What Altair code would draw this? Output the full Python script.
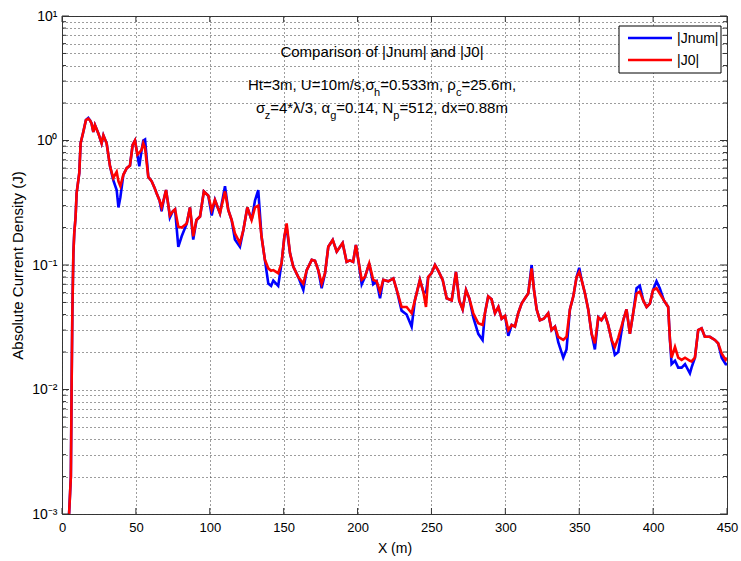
import altair as alt
import pandas as pd

# ---------------- data ----------------
x_m = [4.6, 5.5, 6.0, 6.5, 7.0, 7.7, 8.3, 9.2, 9.9, 11.7, 12.6, 14.4, 16.2, 17.8, 19.0, 20.0,
       21.2, 22.3, 24.6, 26.8, 28.0, 30.2, 32.5, 34.7, 37.0, 38.2, 39.5, 41.5, 43.8, 46.0,
       47.8, 49.4, 51.0, 52.3, 53.9, 55.0, 56.2, 58.4, 60.7, 62.5, 64.0, 66.0, 67.4, 69.0,
       70.4, 72.0, 73.0, 75.0, 76.5, 78.7, 81.0, 84.4, 86.6, 88.8, 91.0, 93.4, 96.0, 99.0,
       101.3, 103.5, 106.9, 110.3, 112.5, 114.8, 117.0, 120.4, 122.7, 125.4, 128.3, 130.6,
       132.8, 135.0, 137.3, 139.6, 141.5, 143.0, 146.3, 148.6, 150.5, 152.0, 154.3, 156.5,
       159.9, 163.3, 165.6, 169.0, 171.2, 173.4, 175.7, 178.0, 180.2, 183.2, 185.9, 189.9,
       192.6, 194.8, 197.0, 198.9, 200.5, 202.8, 205.0, 207.9, 210.6, 212.9, 215.2, 217.4,
       220.8, 224.2, 226.5, 229.8, 233.2, 236.6, 238.8, 242.2, 244.5, 246.3, 247.8, 250.1,
       252.4, 254.6, 257.6, 260.3, 263.7, 266.6, 268.8, 271.1, 273.4, 275.6, 278.3, 281.7,
       284.6, 286.2, 288.4, 290.7, 293.0, 295.3, 297.5, 299.8, 302.0, 304.3, 306.5, 308.7,
       311.0, 313.3, 315.5, 317.8, 319.4, 321.2, 323.4, 326.0, 329.0, 331.3, 333.6, 335.8,
       339.2, 341.4, 343.7, 346.0, 348.2, 350.0, 351.6, 353.9, 356.1, 358.4, 360.6, 362.9,
       365.0, 367.4, 369.6, 371.9, 374.1, 376.4, 379.8, 382.0, 384.3, 386.5, 388.8, 391.0,
       393.3, 395.6, 397.8, 400.0, 402.3, 404.5, 407.3, 410.2, 411.4, 412.5, 414.8, 417.0,
       419.3, 421.6, 424.9, 426.0, 428.3, 430.5, 432.8, 435.0, 438.4, 441.8, 444.0, 446.4,
       449.1, 450.0]

j0 = [0.0009, 0.0015, 0.002, 0.0105, 0.041, 0.125, 0.18, 0.244, 0.378, 0.55, 0.95, 1.17, 1.46,
      1.5, 1.45, 1.37, 1.17, 1.33, 1.14, 0.95, 1.1, 0.95, 0.62, 0.50, 0.56, 0.47, 0.43, 0.53,
      0.60, 0.63, 0.92, 1.0, 0.77, 0.80, 0.84, 0.95, 0.87, 0.51, 0.47, 0.42, 0.377, 0.33, 0.29,
      0.34, 0.40, 0.30, 0.25, 0.27, 0.28, 0.203, 0.20, 0.215, 0.29, 0.17, 0.23, 0.245, 0.39,
      0.36, 0.277, 0.333, 0.26, 0.39, 0.277, 0.23, 0.18, 0.15, 0.19, 0.29, 0.23, 0.29, 0.30,
      0.17, 0.11, 0.094, 0.09, 0.091, 0.086, 0.104, 0.17, 0.216, 0.124, 0.097, 0.08, 0.071,
      0.091, 0.11, 0.108, 0.091, 0.071, 0.086, 0.14, 0.159, 0.128, 0.15, 0.106, 0.109, 0.106,
      0.145, 0.11, 0.076, 0.08, 0.103, 0.076, 0.074, 0.061, 0.076, 0.074, 0.078, 0.063, 0.046,
      0.046, 0.041, 0.052, 0.076, 0.061, 0.046, 0.08, 0.086, 0.1, 0.09, 0.076, 0.054, 0.052,
      0.088, 0.052, 0.044, 0.063, 0.054, 0.041, 0.034, 0.033, 0.041, 0.056, 0.053, 0.041,
      0.046, 0.037, 0.039, 0.030, 0.033, 0.032, 0.041, 0.049, 0.054, 0.059, 0.094, 0.063,
      0.044, 0.036, 0.037, 0.041, 0.030, 0.032, 0.0265, 0.025, 0.0265, 0.044, 0.056, 0.080,
      0.088, 0.076, 0.059, 0.044, 0.028, 0.0235, 0.038, 0.036, 0.04, 0.033, 0.025, 0.022,
      0.026, 0.036, 0.044, 0.028, 0.041, 0.059, 0.061, 0.052, 0.046, 0.049, 0.063, 0.065,
      0.059, 0.052, 0.046, 0.025, 0.018, 0.022, 0.018, 0.0173, 0.018, 0.017, 0.0168, 0.018,
      0.030, 0.031, 0.0265, 0.0265, 0.025, 0.0235, 0.0195, 0.0173, 0.018]

jnum = [0.0009, 0.0015, 0.002, 0.0105, 0.041, 0.125, 0.18, 0.244, 0.378, 0.55, 0.95, 1.17, 1.46,
        1.52, 1.45, 1.37, 1.17, 1.33, 1.14, 0.95, 1.1, 0.95, 0.62, 0.48, 0.40, 0.29, 0.35, 0.53,
        0.60, 0.63, 0.92, 1.0, 0.77, 0.62, 0.84, 1.0, 1.02, 0.51, 0.47, 0.42, 0.377, 0.33, 0.27,
        0.34, 0.40, 0.30, 0.24, 0.27, 0.28, 0.14, 0.17, 0.215, 0.29, 0.16, 0.23, 0.245, 0.39,
        0.36, 0.25, 0.333, 0.26, 0.43, 0.277, 0.23, 0.16, 0.14, 0.19, 0.29, 0.23, 0.33, 0.40,
        0.17, 0.11, 0.071, 0.068, 0.075, 0.068, 0.104, 0.17, 0.20, 0.124, 0.097, 0.08, 0.063,
        0.091, 0.11, 0.108, 0.091, 0.065, 0.086, 0.14, 0.159, 0.128, 0.15, 0.106, 0.109, 0.106,
        0.145, 0.11, 0.07, 0.08, 0.103, 0.07, 0.074, 0.054, 0.076, 0.074, 0.078, 0.063, 0.043,
        0.04, 0.032, 0.052, 0.076, 0.061, 0.06, 0.08, 0.086, 0.1, 0.09, 0.076, 0.054, 0.052,
        0.088, 0.052, 0.044, 0.063, 0.054, 0.038, 0.028, 0.025, 0.041, 0.056, 0.053, 0.041,
        0.046, 0.037, 0.039, 0.027, 0.033, 0.032, 0.041, 0.049, 0.054, 0.059, 0.1, 0.063,
        0.044, 0.036, 0.037, 0.041, 0.030, 0.032, 0.024, 0.018, 0.021, 0.044, 0.056, 0.080,
        0.095, 0.076, 0.059, 0.044, 0.028, 0.021, 0.038, 0.036, 0.04, 0.033, 0.025, 0.019,
        0.02, 0.036, 0.044, 0.028, 0.041, 0.065, 0.068, 0.052, 0.046, 0.049, 0.063, 0.074,
        0.065, 0.052, 0.046, 0.025, 0.016, 0.017, 0.015, 0.015, 0.016, 0.0135, 0.015, 0.018,
        0.030, 0.031, 0.0265, 0.0265, 0.025, 0.0235, 0.018, 0.016, 0.016]

series_names = ["|Jnum|", "|J0|"]
series_colors = ["#0000ff", "#ff0000"]

x_ticks = [0, 50, 100, 150, 200, 250, 300, 350, 400, 450]
y_major = [0.001, 0.01, 0.1, 1, 10]
y_major_labels = ["10⁻³", "10⁻²", "10⁻¹", "10⁰", "10¹"]
y_minor = [0.002, 0.003, 0.004, 0.005, 0.006, 0.007, 0.008, 0.009,
           0.02, 0.03, 0.04, 0.05, 0.06, 0.07, 0.08, 0.09,
           0.2, 0.3, 0.4, 0.5, 0.6, 0.7, 0.8, 0.9,
           2, 3, 4, 5, 6, 7, 8, 9]

title_line = "Comparison of |Jnum| and |J0|"
# (text, is_subscript)
param_line1 = [("Ht=3m, U=10m/s,σ", False), ("h", True), ("=0.533m, ρ", False), ("c", True),
               ("=25.6m,", False)]
param_line2 = [("σ", False), ("z", True), ("=4*λ/3, α", False), ("g", True), ("=0.14, N", False),
               ("p", True), ("=512, dx=0.88m", False)]

# ---------------- layout ----------------
W, H = 665, 498
FONT = "Liberation Sans, Arial, sans-serif"
MAIN_FS = 15
SUB_FS = 11
GRID = "#3a3a3a"

CW = {' ': 278, ',': 278, '.': 278, '/': 278, '*': 389, '=': 584, '|': 260,
      'H': 722, 'U': 722, 'N': 722, 'C': 722, 'J': 500,
      'a': 556, 'c': 500, 'd': 556, 'f': 278, 'g': 556, 'h': 556, 'i': 222, 'm': 833,
      'n': 556, 'o': 556, 'p': 556, 'r': 333, 's': 500, 't': 278, 'u': 556, 'x': 500,
      'z': 500, 'σ': 571, 'ρ': 578, 'λ': 500, 'α': 578}


def text_width(s, fs):
    return sum(CW.get(ch, 556) for ch in s) / 1000.0 * fs


yscale = alt.Scale(type="log", domain=[0.001, 10], nice=False)
xscale = alt.Scale(domain=[0, 450], nice=False, zero=False)

label_expr = " : ".join(
    f"datum.value == {v} ? '{lab}'" for v, lab in zip(y_major, y_major_labels)) + " : ''"

xaxis = alt.Axis(values=x_ticks, title="X (m)", grid=True, ticks=False,
                 domain=False, labelPadding=7, labelFontSize=13,
                 labelFont=FONT, titleFont=FONT, titleFontSize=14,
                 titleFontWeight="normal", titleX=W / 2, titleY=34,
                 titleBaseline="middle", labelColor="black", titleColor="black",
                 gridDash=[1, 3], gridColor=GRID, gridWidth=1, gridOpacity=1,
                 labelFlush=False)
yaxis = alt.Axis(values=sorted(y_major + y_minor),
                 title="Absolute Current Density (J)", grid=True,
                 ticks=False, domain=False, labelExpr=label_expr,
                 labelPadding=5, labelFontSize=14, labelFont=FONT,
                 labelColor="black", titleColor="black",
                 titleFont=FONT, titleFontSize=15, titleFontWeight="normal",
                 titleX=-45, titleY=H / 2, titleBaseline="middle",
                 gridDash=[1, 3], gridColor=GRID, gridWidth=1, gridOpacity=1,
                 labelFlush=False, labelOverlap=False)

rows = []
for name, vals in zip(series_names, [jnum, j0]):
    for xv, yv in zip(x_m, vals):
        rows.append({"x": xv, "y": yv, "series": name})
df = pd.DataFrame(rows)
base = alt.Chart(df)

lines = []
for name, col in zip(series_names, series_colors):
    lines.append(
        base.transform_filter(alt.datum.series == name)
        .mark_line(clip=True, strokeWidth=2.6, color=col)
        .encode(
            x=alt.X("x:Q", scale=xscale, axis=xaxis),
            y=alt.Y("y:Q", scale=yscale, axis=yaxis),
            detail="series:N",
        )
    )

# inside tick marks (MATLAB style)
ymaj_df = pd.DataFrame({"y": y_major})
ymin_df = pd.DataFrame({"y": y_minor})
xt_df = pd.DataFrame({"x": x_ticks})
tick_layers = []
for dfx, ln in [(ymaj_df, 7), (ymin_df, 4)]:
    for x0, x1 in [(0, ln), (W - ln, W)]:
        tick_layers.append(
            alt.Chart(dfx).mark_rule(color="#333333", strokeWidth=1).encode(
                y=alt.Y("y:Q", scale=yscale, axis=yaxis),
                x=alt.value(x0), x2=alt.value(x1)))
for y0, y1 in [(H - 6, H), (0, 6)]:
    tick_layers.append(
        alt.Chart(xt_df).mark_rule(color="#333333", strokeWidth=1).encode(
            x=alt.X("x:Q", scale=xscale, axis=xaxis),
            y=alt.value(y0), y2=alt.value(y1)))

one = pd.DataFrame({"a": [0]})

# annotation text (title + parameter lines, with subscripts)
text_layers = []
CX = 320
text_layers.append(
    alt.Chart(one).mark_text(text=title_line, font=FONT, fontSize=MAIN_FS, align="center",
                             baseline="alphabetic", color="black")
    .encode(x=alt.value(CX), y=alt.value(41)))


def add_line(segs, base_y):
    total = sum(text_width(t, SUB_FS if sub else MAIN_FS) for t, sub in segs)
    pos = CX - total / 2
    for t, sub in segs:
        fs = SUB_FS if sub else MAIN_FS
        text_layers.append(
            alt.Chart(one).mark_text(text=t, font=FONT, fontSize=fs, align="left",
                                     baseline="alphabetic", color="black")
            .encode(x=alt.value(pos), y=alt.value(base_y + (6 if sub else 0))))
        pos += text_width(t, fs)


add_line(param_line1, 74)
add_line(param_line2, 97)

# legend box
LX0, LX1, LY0, LY1 = 557, 659, 10, 57
legend_layers = [
    alt.Chart(one).mark_rect(fill="white", stroke="black", strokeWidth=1).encode(
        x=alt.value(LX0), x2=alt.value(LX1), y=alt.value(LY0), y2=alt.value(LY1))
]
for i, (name, col) in enumerate(zip(series_names, series_colors)):
    yy = 22 + 22 * i
    legend_layers.append(
        alt.Chart(one).mark_rule(color=col, strokeWidth=2.6).encode(
            x=alt.value(566), x2=alt.value(610), y=alt.value(yy)))
    legend_layers.append(
        alt.Chart(one).mark_text(text=name, font=FONT, fontSize=14, align="left",
                                 baseline="middle", color="black")
        .encode(x=alt.value(615), y=alt.value(yy + 1)))

chart = alt.layer(*lines, *tick_layers, *text_layers, *legend_layers).properties(
    width=W, height=H,
    autosize=alt.AutoSizeParams(type="none"),
    padding={"left": 62, "top": 16, "right": 14, "bottom": 47},
    background="white",
).configure_view(stroke="#333333", strokeWidth=1)

chart.save("out.html", embed_options={"renderer": "svg", "actions": False})
